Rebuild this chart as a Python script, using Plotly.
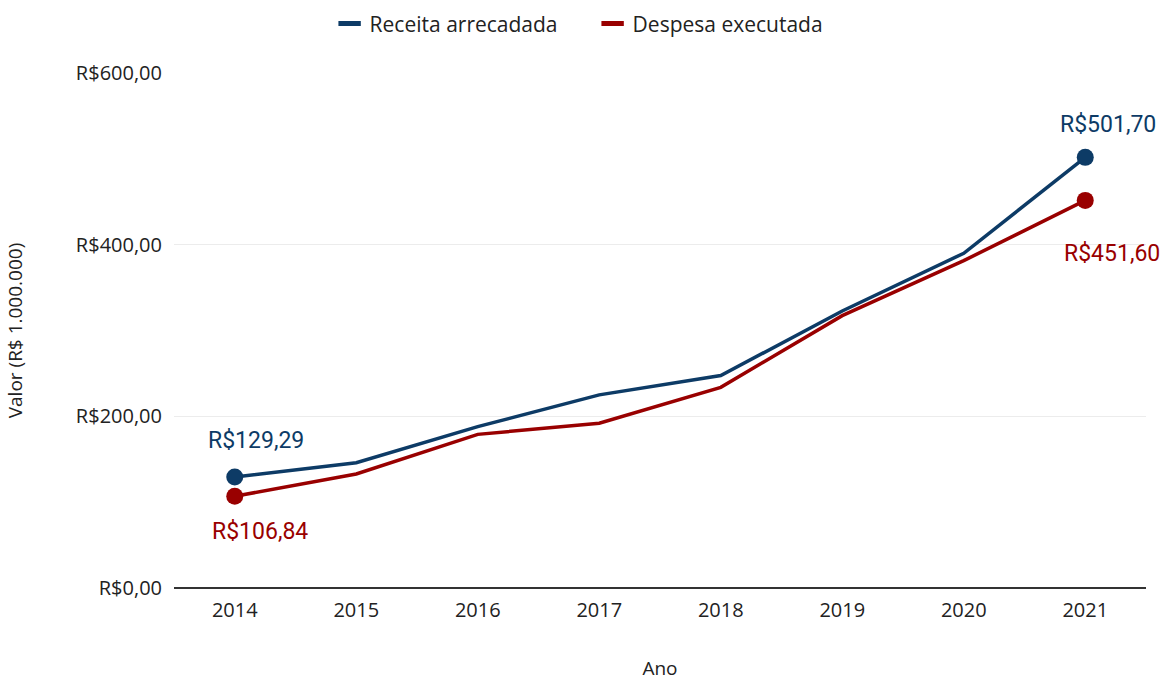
import plotly.graph_objects as go

anos = ["2014", "2015", "2016", "2017", "2018", "2019", "2020", "2021"]
receita = [129.29, 146.0, 188.0, 225.0, 247.5, 322.7, 390.0, 501.70]
despesa = [106.84, 132.8, 179.0, 191.9, 233.8, 317.3, 381.4, 451.60]
ticks_y = [0, 200, 400, 600]

AZUL = "#0d3b66"
VERMELHO = "#990000"


def brl(v):
    s = f"{v:,.2f}".replace(",", "X").replace(".", ",").replace("X", ".")
    return "R$" + s


fig = go.Figure()

for nome, serie, cor in [("Receita arrecadada", receita, AZUL),
                         ("Despesa executada", despesa, VERMELHO)]:
    fig.add_trace(go.Scatter(
        x=anos, y=serie, mode="lines", name=nome,
        line=dict(color=cor, width=3.5),
        showlegend=False,
    ))
    # first and last year highlighted with a dot
    fig.add_trace(go.Scatter(
        x=[anos[0], anos[-1]], y=[serie[0], serie[-1]], mode="markers",
        marker=dict(color=cor, size=17),
        showlegend=False,
    ))
    # legend entry drawn as a short bar
    fig.add_trace(go.Scatter(
        x=[None], y=[None], mode="markers", name=nome,
        marker=dict(symbol="line-ew", size=17, color=cor,
                    line=dict(color=cor, width=8)),
    ))

# value labels at the first and last year (category index positions)
rotulos = [
    (0, receita[0], AZUL, 21, 37),
    (0, despesa[0], VERMELHO, 25, -35),
    (len(anos) - 1, receita[-1], AZUL, 23, 33),
    (len(anos) - 1, despesa[-1], VERMELHO, 27, -53),
]
for i, y, cor, dx, dy in rotulos:
    fig.add_annotation(x=i, y=y, text=brl(y), showarrow=False,
                       xshift=dx, yshift=dy,
                       font=dict(family="Roboto", size=23, color=cor))

fig.update_layout(
    width=1162, height=681,
    margin=dict(l=174, r=16, t=73, b=93),
    paper_bgcolor="white", plot_bgcolor="white",
    font=dict(family="Open Sans", size=19, color="#222222"),
    legend=dict(orientation="h", x=0.51, xanchor="center", xref="container",
                y=0.965, yanchor="middle", yref="container",
                entrywidth=218,
                font=dict(family="Open Sans", size=21, color="#222222")),
    xaxis=dict(
        type="category", range=[-0.5, 7.5], automargin=False,
        showgrid=False, ticks="", showline=False, zeroline=False,
        ticklabelstandoff=8,
        title=dict(text="Ano", standoff=50, font=dict(size=19)),
        tickfont=dict(size=20),
    ),
    yaxis=dict(
        range=[0, 600], tickvals=ticks_y, automargin=False,
        ticktext=[brl(v) for v in ticks_y],
        gridcolor="#ececec", gridwidth=1,
        zeroline=True, zerolinecolor="#333333", zerolinewidth=2,
        showline=False, ticks="", ticklen=0,
        ticklabelstandoff=11,
        title=dict(text="Valor (R$ 1.000.000)", standoff=48, font=dict(size=19)),
        tickfont=dict(size=20),
    ),
)

fig.write_html("out.html")
